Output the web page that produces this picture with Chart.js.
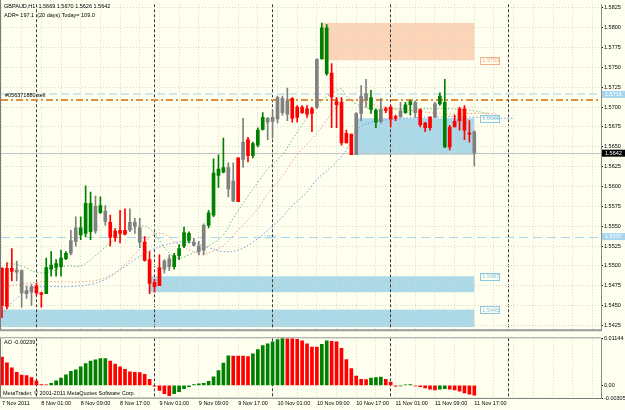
<!DOCTYPE html>
<html>
<head>
<meta charset="utf-8">
<script src="https://cdn.jsdelivr.net/npm/chart.js@4.4.1/dist/chart.umd.min.js"></script>
<style>
html, body { margin: 0; padding: 0; background: #fffff0; }
#wrap { position: relative; width: 625px; height: 410px; background: #fffff0; overflow: hidden; }
#priceBox { position: absolute; left: 0; top: 0; width: 625px; height: 334px; }
#aoBox { position: absolute; left: 0; top: 334px; width: 625px; height: 76px; }
</style>
</head>
<body>
<div id="wrap">
  <div id="priceBox"><canvas id="priceChart"></canvas></div>
  <div id="aoBox"><canvas id="aoChart"></canvas></div>
</div>
<script>
// GBPAUD H1, 7 Nov 2011 17:00 -> 11 Nov 2011 17:00 (one bar per hour)
const opens = [1.5497,1.5497,1.5497,1.5495,1.5494,1.5469,1.5467,1.5475,1.5466,1.5465,
  1.5496,1.5498,1.5499,1.5509,1.5516,1.5531,1.5539,1.5541,1.5543,1.5575,
  1.5567,1.5569,1.5555,1.5544,1.5545,1.5545,1.5545,1.5555,1.5548,1.5530,
  1.5508,1.5479,1.5498,1.5496,1.5499,1.5499,1.5513,1.5525,1.5532,1.5530,
  1.5525,1.5520,1.5551,1.5564,1.5614,1.5618,1.5624,1.5582,1.5636,1.5634,
  1.5659,1.5639,1.5652,1.5672,1.5686,1.5682,1.5685,1.5711,1.5691,1.5711,
  1.5700,1.5700,1.5698,1.5698,1.5700,1.5761,1.5742,1.5743,1.5707,1.5706,
  1.5667,1.5666,1.5640,1.5692,1.5717,1.5697,1.5681,1.5697,1.5698,1.5700,
  1.5688,1.5688,1.5693,1.5703,1.5706,1.5697,1.5680,1.5687,1.5687,1.5704,
  1.5650,1.5675,1.5682,1.5698,1.5698,1.5667,1.5669];
const highs = [1.5498,1.5504,1.5522,1.5506,1.5495,1.5475,1.5477,1.5478,1.5467,1.5510,
  1.5518,1.5508,1.5520,1.5518,1.5545,1.5562,1.5562,1.5601,1.5593,1.5588,
  1.5587,1.5576,1.5564,1.5547,1.5570,1.5572,1.5572,1.5560,1.5560,1.5537,
  1.5518,1.5483,1.5514,1.5508,1.5514,1.5516,1.5527,1.5549,1.5543,1.5535,
  1.5531,1.5553,1.5570,1.5635,1.5640,1.5661,1.5630,1.5630,1.5636,1.5686,
  1.5662,1.5656,1.5674,1.5693,1.5687,1.5696,1.5714,1.5714,1.5724,1.5712,
  1.5702,1.5702,1.5702,1.5700,1.5761,1.5806,1.5804,1.5755,1.5712,1.5712,
  1.5671,1.5666,1.5693,1.5727,1.5735,1.5721,1.5698,1.5711,1.5700,1.5702,
  1.5690,1.5706,1.5706,1.5709,1.5708,1.5698,1.5681,1.5688,1.5706,1.5718,
  1.5735,1.5677,1.5690,1.5700,1.5702,1.5683,1.5670];
const lows = [1.5435,1.5446,1.5481,1.5481,1.5448,1.5459,1.5450,1.5463,1.5448,1.5465,
  1.5487,1.5487,1.5487,1.5508,1.5514,1.5525,1.5533,1.5537,1.5533,1.5541,
  1.5566,1.5551,1.5525,1.5531,1.5529,1.5539,1.5543,1.5541,1.5523,1.5506,
  1.5465,1.5467,1.5475,1.5491,1.5494,1.5496,1.5508,1.5523,1.5529,1.5525,
  1.5514,1.5514,1.5548,1.5562,1.5599,1.5617,1.5587,1.5581,1.5581,1.5624,
  1.5631,1.5636,1.5650,1.5671,1.5659,1.5661,1.5680,1.5690,1.5683,1.5681,
  1.5681,1.5692,1.5687,1.5669,1.5698,1.5760,1.5740,1.5674,1.5674,1.5652,
  1.5655,1.5640,1.5640,1.5683,1.5700,1.5692,1.5674,1.5680,1.5693,1.5675,
  1.5683,1.5687,1.5692,1.5690,1.5687,1.5675,1.5669,1.5671,1.5687,1.5702,
  1.5649,1.5646,1.5675,1.5671,1.5659,1.5656,1.5626];
const closes = [1.5450,1.5449,1.5493,1.5492,1.5466,1.5465,1.5474,1.5466,1.5464,1.5498,
  1.5501,1.5503,1.5510,1.5516,1.5532,1.5548,1.5548,1.5579,1.5579,1.5544,
  1.5576,1.5556,1.5536,1.5536,1.5541,1.5540,1.5555,1.5550,1.5530,1.5507,
  1.5478,1.5474,1.5475,1.5506,1.5509,1.5513,1.5522,1.5542,1.5541,1.5526,
  1.5518,1.5551,1.5567,1.5617,1.5622,1.5624,1.5597,1.5607,1.5581,1.5656,
  1.5639,1.5654,1.5671,1.5687,1.5681,1.5687,1.5712,1.5693,1.5708,1.5686,
  1.5687,1.5693,1.5691,1.5692,1.5760,1.5800,1.5800,1.5713,1.5703,1.5655,
  1.5655,1.5640,1.5692,1.5714,1.5709,1.5712,1.5696,1.5682,1.5696,1.5685,
  1.5686,1.5695,1.5703,1.5707,1.5693,1.5678,1.5674,1.5674,1.5704,1.5714,
  1.5706,1.5650,1.5675,1.5683,1.5671,1.5666,1.5642];
// bar colouring as shown (g = green, r = red, k = grey)
const candleKinds = ('rrrkkkkrrg' + 'ggggkkgggk' + 'gkrrrrkkkr' + 'rrrkkggggk' + 'kkggggkkrk' +
  'rgggkkkkkr' + 'rrrrkggrrr' + 'rrkkkggkrr' + 'rkggkrrrkg' + 'grrrrrk').split('');

// Awesome Oscillator
const aoValues = [0.0069,0.0055,0.0043,0.0032,0.0025,0.0024,0.0019,0.0011,0.0002,0.0001,
  0.0005,0.0011,0.0018,0.0026,0.0034,0.0038,0.0045,0.0053,0.0059,0.0062,
  0.0065,0.0065,0.0059,0.0052,0.0045,0.0039,0.0033,0.0032,0.0031,0.0027,
  0.0015,-0.0002,-0.0012,-0.0020,-0.0025,-0.0020,-0.0015,-0.0008,-0.0003,0.0002,
  0.0004,0.0005,0.0010,0.0021,0.0036,0.0054,0.0072,0.0071,0.0071,0.0071,
  0.0070,0.0077,0.0087,0.0097,0.0101,0.0106,0.0111,0.01144,0.0114,0.0114,
  0.0112,0.0108,0.0101,0.0093,0.0093,0.0100,0.0108,0.0107,0.0106,0.0090,
  0.0063,0.0041,0.0023,0.0015,0.0014,0.0018,0.0019,0.0020,0.0015,0.0008,
  -0.0002,-0.0001,0.0001,0.0002,-0.0001,-0.0003,-0.0006,-0.0009,-0.0011,-0.0009,
  -0.0008,-0.0009,-0.0011,-0.0014,-0.0018,-0.0021,-0.00239];
const aoKinds = ('rrrrrrrrrr' + 'gggggggggg' + 'ggrrrrrrrr' + 'rrrrrggggg' + 'gggggggrrr' +
  'rgggggggrr' + 'rrrrrggrrr' + 'rrrrrgggrr' + 'rgggrrrrrg' + 'grrrrrr').split('');
const aoTicks = [-0.00305, 0, 0.01144];

// Alligator lines (bar index / price)
const lipsIdx = [1,4,7,10,13,16,19,22,25,28,30,32,34,36,38,40,43,45,47,50,52,54,57,59,62,65,68,69,70,72,75,79,83,87,91,95,99];
const lipsVal = [1.5504,1.5500,1.5492,1.5493,1.5500,1.5500,1.5513,1.5529,1.5541,1.5550,1.5547,1.5532,1.5516,1.5510,1.5514,1.5520,1.5529,1.5539,1.5560,1.5588,1.5605,1.5622,1.5640,1.5659,1.5686,1.5708,1.5721,1.5723,1.5714,1.5704,1.5698,1.5698,1.5698,1.5698,1.5698,1.5696,1.5692];
const teethIdx = [0,4,8,12,16,20,23,26,29,31,33,35,37,39,41,43,45,48,52,54,57,60,64,68,70,72,75,79,83,87,91,95,99,101];
const teethVal = [1.5473,1.5477,1.5480,1.5480,1.5480,1.5483,1.5492,1.5508,1.5529,1.5540,1.5540,1.5531,1.5523,1.5518,1.5515,1.5519,1.5526,1.5545,1.5572,1.5591,1.5613,1.5640,1.5667,1.5700,1.5708,1.5708,1.5704,1.5698,1.5696,1.5693,1.5691,1.5692,1.5692,1.5691];
const jawIdx = [0,2,4,6,10,14,18,21,24,27,30,33,36,39,42,45,48,51,54,57,59,62,64,67,70,72,75,77,81,85,89,93,97,101,104];
const jawVal = [1.5438,1.5454,1.5464,1.5472,1.5474,1.5474,1.5477,1.5483,1.5495,1.5508,1.5519,1.5526,1.5530,1.5529,1.5523,1.5518,1.5520,1.5530,1.5545,1.5562,1.5576,1.5593,1.5609,1.5625,1.5646,1.5671,1.5681,1.5683,1.5686,1.5687,1.5688,1.5688,1.5687,1.5686,1.5686];

// time axis
const timeTickIdx = [0, 8, 16, 24, 32, 40, 48, 56, 64, 72, 80, 88, 96];
const timeTickLabels = ['7 Nov 2011', '8 Nov 01:00', '8 Nov 09:00', '8 Nov 17:00', '9 Nov 01:00', '9 Nov 09:00',
  '9 Nov 17:00', '10 Nov 01:00', '10 Nov 09:00', '10 Nov 17:00', '11 Nov 01:00', '11 Nov 09:00', '11 Nov 17:00'];
const dayStarts = [7, 31, 55, 79, 103];
const priceTicks = [1.5425, 1.5450, 1.5475, 1.5500, 1.5525, 1.5550, 1.5575, 1.5600, 1.5625, 1.5650, 1.5675, 1.5700, 1.5725, 1.5750, 1.5775, 1.5800, 1.5825];

// drawn objects
const zoneKind = ['sell', 'buy', 'buy', 'buy'];
const zoneFrom = [65.2, 71.8, 30.1, -1];
const zoneTo = [96, 96, 96, 96];
const zoneHigh = [1.5806, 1.5686, 1.5487, 1.5445];
const zoneLow = [1.5759, 1.5640, 1.5467, 1.5423];
const pivotLevels = [1.5716, 1.5537];
const pivotTag = 'MPP';
const orderPrice = 1.5709;
const orderTag = '#056371880 sell';
const bidPrice = 1.5642;
const headerLines = ['GBPAUD,H1  1.5669 1.5670 1.5626 1.5642', 'ADR= 197.1  (20 days) Today= 109.0'];

const FONT = '"Liberation Sans", Arial, sans-serif';
const xMin = -0.2, xMax = 121.75;
const yMin = 1.54197, yMax = 1.58295;
const palette = { g: '#008000', r: '#ff0000', k: '#808080' };
const zoneStyle = { sell: { fill: '#fcd5b9', text: '#f2b08c' }, buy: { fill: '#acd9e8', text: '#8cc6df' } };
const gridTicks = [];
for (let v = 0; v <= 120; v += 4) gridTicks.push(v);
dayStarts.forEach(d => gridTicks.push(d));
gridTicks.sort((a, b) => a - b);
const isDay = v => dayStarts.includes(v);

function hLine(chart, value, color, width, dash) {
    const { ctx, chartArea, scales } = chart;
    const y = Math.round(scales.y.getPixelForValue(value)) + (width % 2 ? 0.5 : 0);
    ctx.save();
    ctx.strokeStyle = color; ctx.lineWidth = width; ctx.setLineDash(dash);
    ctx.beginPath(); ctx.moveTo(chartArea.left, y); ctx.lineTo(chartArea.right, y); ctx.stroke();
    ctx.restore();
}

function axisBox(chart, value, bg, fg) {
    const { ctx, chartArea, scales } = chart;
    const y = scales.y.getPixelForValue(value);
    ctx.save();
    ctx.fillStyle = bg; ctx.fillRect(chartArea.right + 1, y - 3.5, 23, 7);
    ctx.fillStyle = fg; ctx.font = '5.5px ' + FONT; ctx.textBaseline = 'middle';
    ctx.fillText(value.toFixed(4), chartArea.right + 4, y + 0.3);
    ctx.restore();
}

const priceOverlay = {
    id: 'priceOverlay',
    beforeDraw(chart) {
        const { ctx, chartArea: a, scales: { x, y } } = chart;
        ctx.save();
        ctx.beginPath(); ctx.rect(a.left, a.top, a.right - a.left, a.bottom - a.top); ctx.clip();
        zoneKind.forEach((k, i) => {
            const x0 = x.getPixelForValue(zoneFrom[i]), x1 = x.getPixelForValue(zoneTo[i]);
            const y0 = y.getPixelForValue(zoneHigh[i]), y1 = y.getPixelForValue(zoneLow[i]);
            ctx.fillStyle = zoneStyle[k].fill;
            ctx.fillRect(x0, y0, x1 - x0, y1 - y0);
        });
        ctx.restore();
    },
    beforeDatasetsDraw(chart) {
        hLine(chart, bidPrice, '#c4c4c4', 1, []);
        hLine(chart, pivotLevels[1], '#a9d6ea', 1, [9, 5]);
        hLine(chart, pivotLevels[0], '#cde6ef', 2, [8, 4]);
        hLine(chart, orderPrice, '#e0903c', 2, [7, 3, 2, 3]);
    },
    afterDraw(chart) {
        const { ctx, chartArea: a, scales: { x, y } } = chart;
        ctx.save();
        ctx.font = '5.5px ' + FONT; ctx.textBaseline = 'middle'; ctx.fillStyle = '#000';
        ctx.fillText(headerLines[0], 4, 6);
        ctx.fillText(headerLines[1], 4, 15);
        ctx.fillText(orderTag, 5, y.getPixelForValue(orderPrice) - 4.5);
        ctx.fillStyle = '#9fcfe6';
        ctx.fillText(pivotTag, x.getPixelForValue(53.3), y.getPixelForValue(pivotLevels[1]) + 0.5);
        // object price tags
        zoneKind.forEach((k, i) => {
            const v = k === 'sell' ? zoneLow[i] : zoneHigh[i];
            const px = x.getPixelForValue(zoneTo[i]) + 6, py = y.getPixelForValue(v);
            ctx.strokeStyle = zoneStyle[k].text; ctx.lineWidth = 1;
            ctx.strokeRect(Math.round(px) + 0.5, Math.round(py - 3.5) + 0.5, 19, 7);
            ctx.fillStyle = zoneStyle[k].text;
            ctx.fillText(v.toFixed(4), px + 2, py + 0.5);
        });
        // frame
        ctx.strokeStyle = '#7a7a7a'; ctx.lineWidth = 1;
        ctx.beginPath(); ctx.moveTo(0.5, 0); ctx.lineTo(0.5, a.bottom); ctx.stroke();
        ctx.strokeStyle = '#9a9a9a'; ctx.lineWidth = 2;
        ctx.beginPath(); ctx.moveTo(0, a.bottom + 0.5); ctx.lineTo(a.right + 1, a.bottom + 0.5); ctx.stroke();
        ctx.restore();
        axisBox(chart, pivotLevels[0], '#a6d6ee', '#ffffff');
        axisBox(chart, pivotLevels[1], '#a6d6ee', '#ffffff');
        axisBox(chart, bidPrice, '#000000', '#ffffff');
    }
};

const candleFill = candleKinds.map(k => palette[k]);
const dotted = (xs, vs, color) => ({
    type: 'line', data: xs.map((v, i) => ({ x: v, y: vs[i] })), borderColor: color,
    borderWidth: 1, borderDash: [1.5, 2], pointRadius: 0, tension: 0.4, order: 5
});

new Chart(document.getElementById('priceChart'), {
    type: 'bar',
    data: {
        datasets: [
            dotted(jawIdx, jawVal, '#7d9de0'),
            dotted(teethIdx, teethVal, '#f39c86'),
            dotted(lipsIdx, lipsVal, '#6fbf6f'),
            { data: lows.map((l, i) => ({ x: i, y: [l, highs[i]] })), backgroundColor: candleFill, barThickness: 1, grouped: false, order: 2 },
            { data: opens.map((o, i) => ({ x: i, y: [o, closes[i]] })), backgroundColor: candleFill, barThickness: 3, minBarLength: 1, grouped: false, order: 1 }
        ]
    },
    options: {
        responsive: true, maintainAspectRatio: false, animation: false,
        layout: { padding: { left: 1, top: 2, right: 0, bottom: 1 } },
        plugins: { legend: { display: false }, tooltip: { enabled: false } },
        scales: {
            x: {
                type: 'linear', min: xMin, max: xMax, offset: false,
                afterBuildTicks: s => { s.ticks = gridTicks.map(v => ({ value: v })); },
                afterFit: s => { s.height = 0; },
                ticks: { display: false },
                grid: { offset: false, drawTicks: false, color: c => isDay(c.tick.value) ? '#3a3a3a' : '#d8d8c8' },
                border: { display: false, dash: c => isDay(c.tick.value) ? [3, 2] : [1, 2] }
            },
            y: {
                position: 'right', min: yMin, max: yMax,
                afterBuildTicks: s => { s.ticks = priceTicks.map(v => ({ value: v })); },
                afterFit: s => { s.width = 24; },
                ticks: { font: { family: FONT, size: 5.5 }, color: '#000', padding: 1, callback: v => v.toFixed(4) },
                grid: { color: '#d8d8c8', tickColor: '#000', tickLength: 2 },
                border: { color: '#8a8a8a', dash: [1, 2] }
            }
        }
    },
    plugins: [priceOverlay]
});

const aoOverlay = {
    id: 'aoOverlay',
    afterDraw(chart) {
        const { ctx, chartArea: a } = chart;
        ctx.save();
        ctx.font = '5.5px ' + FONT; ctx.textBaseline = 'middle'; ctx.fillStyle = '#000';
        ctx.fillText('AO -0.00239', 4, a.top + 4);
        ctx.fillText('MetaTrader, \u00a9 2001-2011 MetaQuotes Software Corp.', 3, a.bottom - 5);
        ctx.strokeStyle = '#9a9a9a'; ctx.lineWidth = 1;
        ctx.beginPath(); ctx.moveTo(0, a.top - 0.5); ctx.lineTo(a.right, a.top - 0.5); ctx.stroke();
        ctx.strokeStyle = '#7a7a7a';
        ctx.beginPath(); ctx.moveTo(0.5, a.top); ctx.lineTo(0.5, a.bottom); ctx.lineTo(a.right, a.bottom + 0.5); ctx.stroke();
        ctx.restore();
    }
};

new Chart(document.getElementById('aoChart'), {
    type: 'bar',
    data: {
        datasets: [{
            data: aoValues.map((v, i) => ({ x: i, y: v })),
            backgroundColor: aoKinds.map(k => palette[k] === '#008000' ? '#008000' : '#ff0000'),
            barThickness: 3
        }]
    },
    options: {
        responsive: true, maintainAspectRatio: false, animation: false,
        layout: { padding: { left: 1, top: 4, right: 0, bottom: 0 } },
        plugins: { legend: { display: false }, tooltip: { enabled: false } },
        scales: {
            x: {
                type: 'linear', min: xMin, max: xMax, offset: false,
                afterBuildTicks: s => { s.ticks = gridTicks.map(v => ({ value: v })); },
                afterFit: s => { s.height = 12; },
                ticks: {
                    autoSkip: false, maxRotation: 0, minRotation: 0, align: 'start', padding: 2,
                    font: { family: FONT, size: 5.5 }, color: '#000',
                    callback: v => { const k = timeTickIdx.indexOf(v); return k >= 0 ? timeTickLabels[k] : ''; }
                },
                grid: { offset: false, drawTicks: false, color: c => isDay(c.tick.value) ? '#3a3a3a' : '#d8d8c8' },
                border: { display: false, dash: c => isDay(c.tick.value) ? [3, 2] : [1, 2] }
            },
            y: {
                position: 'right', min: aoTicks[0], max: aoTicks[2],
                afterBuildTicks: s => { s.ticks = aoTicks.map(v => ({ value: v })); },
                afterFit: s => { s.width = 24; },
                ticks: { font: { family: FONT, size: 5.5 }, color: '#000', padding: 1, callback: v => v === 0 ? '0.00' : v.toFixed(5) },
                grid: { drawOnChartArea: false, tickColor: '#000', tickLength: 2 },
                border: { color: '#8a8a8a' }
            }
        }
    },
    plugins: [aoOverlay]
});
</script>
</body>
</html>
